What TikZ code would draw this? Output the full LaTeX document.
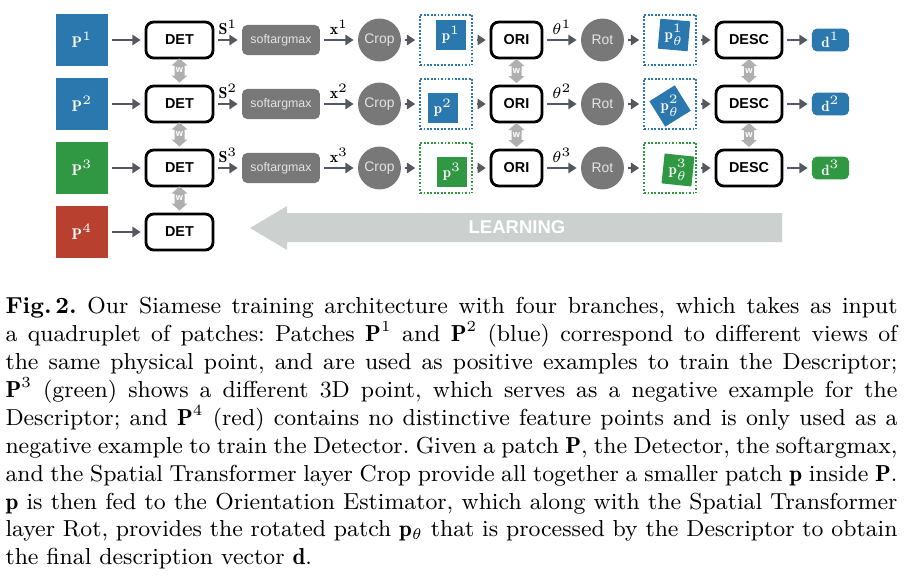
\documentclass[tikz,border=0pt]{standalone}
\usepackage{fontspec}
\newfontfamily\hv{Liberation Sans}
\usetikzlibrary{arrows.meta,positioning}
\setlength\parindent{0pt}
\definecolor{pblue}{RGB}{43,120,174}
\definecolor{pgreen}{RGB}{48,152,66}
\definecolor{pred}{RGB}{184,64,46}
\definecolor{softgray}{RGB}{120,120,120}
\definecolor{lighttext}{RGB}{228,228,228}
\definecolor{arrowgray}{RGB}{85,89,95}
\definecolor{wgray}{RGB}{175,175,175}
\definecolor{learn}{RGB}{204,208,207}
\begin{document}
\begin{tikzpicture}[x=0.389pt,y=-0.389pt,
  bigpatch/.style={minimum size=20.2pt, inner sep=0, text=white, font=\fontsize{6}{7}\selectfont},
  netbox/.style={draw=black, line width=1.1pt, rounded corners=3pt, fill=white, minimum height=14pt, inner sep=0, font=\hv\bfseries\fontsize{5.6}{6}\selectfont},
  softbox/.style={fill=softgray, rounded corners=2pt, minimum width=30.3pt, minimum height=11.7pt, inner sep=0, text=lighttext, font=\hv\fontsize{4.8}{5}\selectfont},
  layer/.style={circle, fill=softgray, minimum size=16.7pt, inner sep=0, text=lighttext, font=\hv\fontsize{5.4}{6}\selectfont},
  dotbox/.style={line width=0.75pt, dash pattern=on 0.7pt off 0.65pt, minimum width=20.2pt, minimum height=19.8pt, inner sep=0},
  smallpatch/.style={minimum size=11.7pt, inner sep=0},
  ptext/.style={text=white, inner sep=0, font=\fontsize{5.8}{6}\selectfont},
  outbox/.style={rounded corners=2pt, minimum width=14.4pt, minimum height=8.9pt, inner sep=0, text=white, font=\fontsize{5.8}{6}\selectfont},
  flow/.style={draw=arrowgray, line width=1.15pt, -{Triangle[length=3.2pt,width=4pt]}, shorten <=1.5pt, shorten >=1.5pt},
  lbl/.style={above=1.2pt, inner sep=0.3pt, font=\fontsize{6.2}{7}\selectfont},
  warrow/.pic={\fill[wgray] (0,-12)--(8,-5)--(5,-5)--(5,5)--(8,5)--(0,12)--(-8,5)--(-5,5)--(-5,-5)--(-8,-5)--cycle;
     \node[text=white, inner sep=0, font=\hv\bfseries\fontsize{3.6}{4}\selectfont] (-t) at (0,0) {w};}
]
\path[use as bounding box] (0,0) rectangle (909,581);

% LEARNING arrow
\fill[learn] (250,228)--(287,206)--(287,213)--(782,213)--(782,242)--(287,242)--(287,250)--cycle;
\node[inner sep=0, text=white, font=\hv\bfseries\fontsize{7.2}{8}\selectfont] (learning) at (517,227.5) {LEARNING};

\foreach \r/\y/\c/\pdx/\pdy/\tdx/\tdy/\rot in {1/40/pblue/5/-5/4/-5/-5, 2/104/pblue/-3/4/0/2/32, 3/168/pgreen/6/4/8/2/-6}{
  \node[bigpatch, fill=\c] (P\r) at (82,\y) {$\mathbf{P}^{\r}$};
  \node[netbox, minimum width=26.1pt] (DET\r) at (179.5,\y) {DET};
  \node[softbox] (sam\r) at (281,\y) {softargmax};
  \node[layer] (crop\r) at (379.5,\y) {Crop};
  \node[dotbox, draw=\c] (pbox\r) at (446,\y) {};
  \node[smallpatch, fill=\c, text=white, font=\fontsize{5.8}{6}\selectfont] (p\r) at ([shift={(\pdx,\pdy)}]pbox\r.center) {$\mathbf{p}^{\r}$};
  \node[netbox, minimum width=19.8pt] (ORI\r) at (516.5,\y) {ORI};
  \node[layer] (rot\r) at (602.5,\y) {Rot};
  \node[dotbox, draw=\c] (tbox\r) at (670,\y) {};
  \fill[\c, shift={(tbox\r.center)}, shift={(\tdx,\tdy)}, rotate=\rot] (-15,-15) rectangle (15,15);
  \node[ptext] (ptl\r) at ([shift={(\tdx,\tdy)}]tbox\r.center) {$\mathbf{p}_\theta^{\r}$};
  \node[netbox, minimum width=25.7pt] (DESC\r) at (749,\y) {DESC};
  \node[outbox, fill=\c] (d\r) at (830.5,\y) {$\mathbf{d}^{\r}$};
  \draw[flow] (P\r) -- (DET\r);
  \draw[flow] (DET\r) -- node[lbl] (S\r) {$\mathbf{S}^{\r}$} (sam\r);
  \draw[flow] (sam\r) -- node[lbl] (x\r) {$\mathbf{x}^{\r}$} (crop\r);
  \draw[flow] (crop\r) -- (pbox\r);
  \draw[flow] (pbox\r) -- (ORI\r);
  \draw[flow] (ORI\r) -- node[lbl] (th\r) {$\theta^{\r}$} (rot\r);
  \draw[flow] (rot\r) -- (tbox\r);
  \draw[flow] (tbox\r) -- (DESC\r);
  \draw[flow] (DESC\r) -- (d\r);
}
\node[bigpatch, fill=pred] (P4) at (82,232) {$\mathbf{P}^{4}$};
\node[netbox, minimum width=26.1pt] (DET4) at (179.5,232) {DET};
\draw[flow] (P4) -- (DET4);

% shared weights
\pic (wd12) at (179.5,70.5) {warrow};
\pic (wd23) at (179.5,134.5) {warrow};
\pic (wd34) at (179.5,198.5) {warrow};
\pic (wo12) at (516.5,71) {warrow};
\pic (wo23) at (516.5,135) {warrow};
\pic (ws12) at (749,71) {warrow};
\pic (ws23) at (749,135) {warrow};

% caption
\node[anchor=north west, inner sep=0, text width=347pt, align=justify, font=\fontsize{9}{10.85}\selectfont\frenchspacing] (caption) at (5,297) {%
\textbf{Fig.\,2.} Our Siamese training architecture with four branches, which takes as input\linebreak
a quadruplet of patches: Patches $\mathbf{P}^1$ and $\mathbf{P}^2$ (blue) correspond to different views of\linebreak
the same physical point, and are used as positive examples to train the Descriptor;\linebreak
$\mathbf{P}^3$ (green) shows a different 3D point, which serves as a negative example for the\linebreak
Descriptor; and $\mathbf{P}^4$ (red) contains no distinctive feature points and is only used as a\linebreak
negative example to train the Detector. Given a patch $\mathbf{P}$, the Detector, the softargmax,\linebreak
and the Spatial Transformer layer Crop provide all together a smaller patch $\mathbf{p}$ inside $\mathbf{P}$.\linebreak
$\mathbf{p}$ is then fed to the Orientation Estimator, which along with the Spatial Transformer\linebreak
layer Rot, provides the rotated patch $\mathbf{p}_\theta$ that is processed by the Descriptor to obtain\linebreak
the final description vector $\mathbf{d}$.};
\end{tikzpicture}
\end{document}
